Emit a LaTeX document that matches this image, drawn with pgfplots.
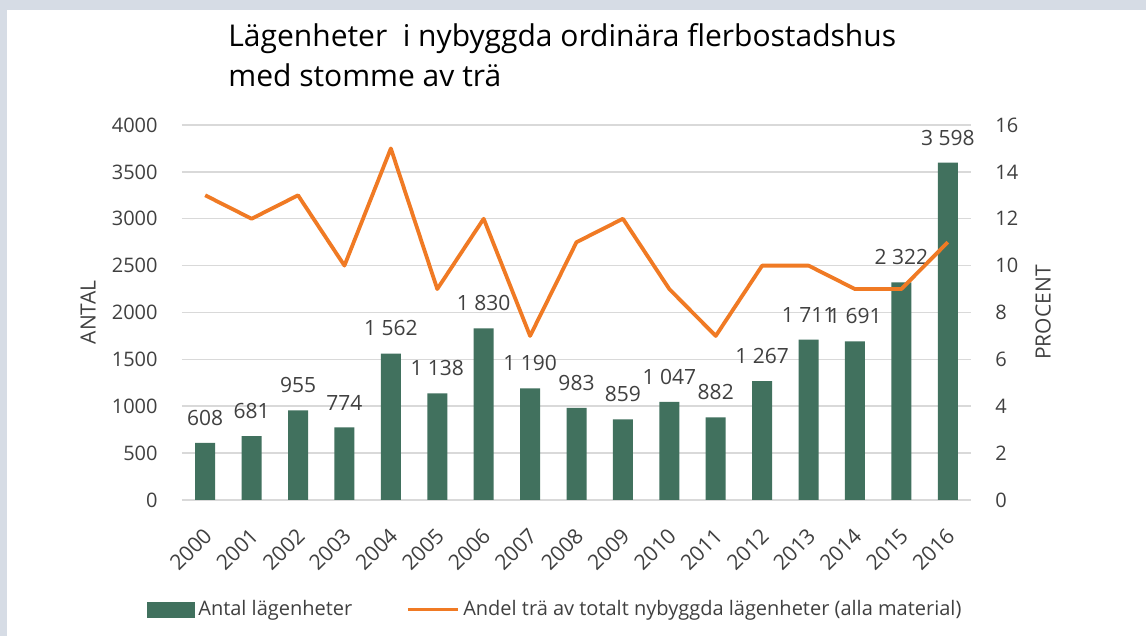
\documentclass[border=0pt]{standalone}
\usepackage{fontspec}
\setmainfont{Open Sans}
\usepackage{pgfplots}
\pgfplotsset{compat=1.18}
\definecolor{bargreen}{RGB}{65,113,94}
\definecolor{lineorange}{RGB}{240,122,36}
\definecolor{gridgrey}{RGB}{217,217,217}
\definecolor{txt}{RGB}{64,64,64}
\definecolor{framebg}{RGB}{214,220,229}
\begin{document}
\begin{tikzpicture}
\useasboundingbox (-91pt,-68pt) rectangle (482pt,250pt);
\fill[framebg] (-91pt,-68pt) rectangle (482pt,250pt);
\fill[white] (-87.5pt,-68pt) rectangle (482pt,245pt);
\node[anchor=north west, align=left, inner sep=0pt, font=\fontsize{15}{20}\selectfont] at (23pt,238.5pt) {Lägenheter\ \ i nybyggda ordinära flerbostadshus\\med stomme av trä};
\begin{axis}[
  at={(0pt,0pt)}, anchor=south west, scale only axis, width=394.5pt, height=187.5pt,
  xmin=-0.5, xmax=16.5, ymin=0, ymax=4000,
  ytick={0,500,...,4000}, xtick={0,...,16},
  xticklabels={2000,2001,2002,2003,2004,2005,2006,2007,2008,2009,2010,2011,2012,2013,2014,2015,2016},
  ymajorgrids, grid style={gridgrey, line width=0.75pt},
  axis line style={draw=none}, major tick length=0pt,
  tick label style={font=\fontsize{10}{12}\selectfont, text=txt},
  /pgf/number format/assume math mode=true, /pgf/number format/1000 sep={},
  yticklabel style={anchor=east, inner sep=0pt, xshift=-12pt},
  xticklabel style={xshift=1.5pt, yshift=-16pt, rotate=45, anchor=east, inner sep=0pt, font=\fontsize{10.6}{12}\selectfont},
  ylabel={ANTAL},
  every axis y label/.style={at={(axis description cs:-0.119,0.5)}, anchor=center, rotate=90, font=\fontsize{10.5}{12}\selectfont, text=txt},
  clip=false,
]
\addplot[ybar, bar width=10pt, fill=bargreen, draw=none,
  nodes near coords={\pgfmathprintnumber[1000 sep={\ }]{\pgfplotspointmeta}},
  every node near coord/.style={anchor=south, inner sep=0pt, yshift=8.5pt, font=\fontsize{10.5}{12}\selectfont, text=txt}]
coordinates {(0,608) (1,681) (2,955) (3,774) (4,1562) (5,1138) (6,1830) (7,1190) (8,983) (9,859) (10,1047) (11,882) (12,1267) (13,1711) (14,1691) (15,2322) (16,3598)};
\end{axis}
\begin{axis}[
  at={(0pt,0pt)}, anchor=south west, scale only axis, width=394.5pt, height=187.5pt,
  xmin=-0.5, xmax=16.5, ymin=0, ymax=16, ytick={0,2,...,16}, xtick=\empty,
  axis line style={draw=none}, major tick length=0pt,
  yticklabel pos=right,
  tick label style={font=\fontsize{10}{12}\selectfont, text=txt},
  /pgf/number format/assume math mode=true,
  yticklabel style={anchor=west, inner sep=0pt, xshift=12pt},
  ylabel={PROCENT},
  every axis y label/.style={at={(axis description cs:1.0913,0.5)}, anchor=center, rotate=90, font=\fontsize{10.5}{12}\selectfont, text=txt},
  legend style={at={(axis description cs:0.474,-0.293)}, anchor=center, draw=none, fill=none, legend columns=2, font=\fontsize{10}{12}\selectfont, text=txt, /tikz/every even column/.style={column sep=25pt}},
  clip=false,
]
\addlegendimage{legend image code/.code={\fill[bargreen] (0pt,-3.75pt) rectangle (23.5pt,3.75pt);}}
\addlegendentry{Antal lägenheter}
\addplot[lineorange, line width=1.9pt, mark=none, line join=round,
  legend image code/.code={\draw[lineorange, line width=1.5pt] (0pt,0pt) -- (25pt,0pt);}]
coordinates {(0,13) (1,12) (2,13) (3,10) (4,15) (5,9) (6,12) (7,7) (8,11) (9,12) (10,9) (11,7) (12,10) (13,10) (14,9) (15,9) (16,11)};
\addlegendentry{Andel trä av totalt nybyggda lägenheter (alla material)}
\end{axis}
\end{tikzpicture}
\end{document}
